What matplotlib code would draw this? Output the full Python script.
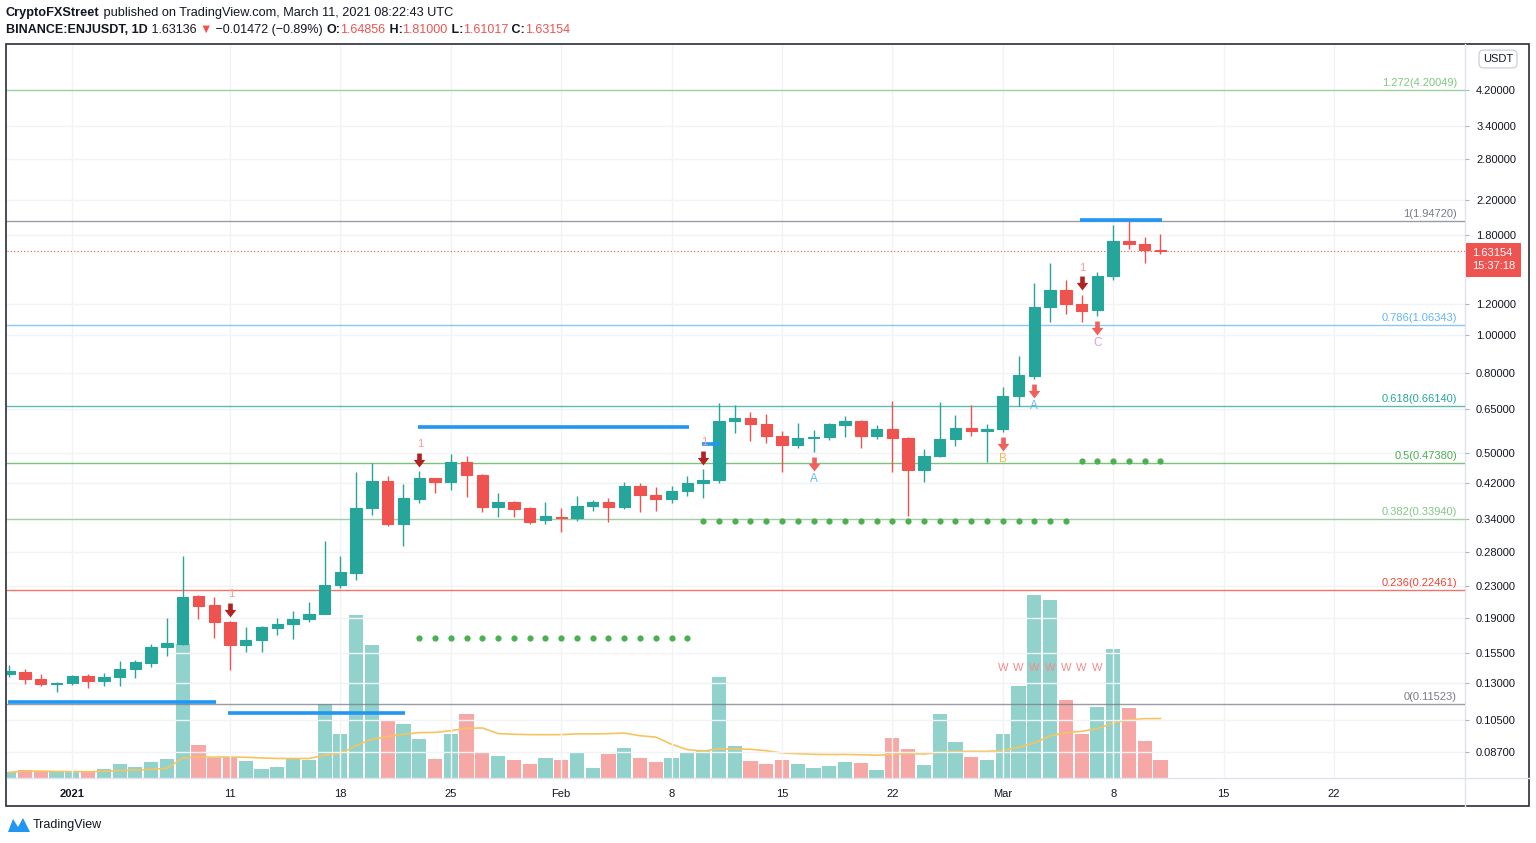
import numpy as np
import pandas as pd
import matplotlib
matplotlib.use('Agg')
import matplotlib.pyplot as plt
import matplotlib.dates as mdates
import matplotlib.transforms as mtransforms
from matplotlib.path import Path
from matplotlib.patches import Rectangle, Polygon
from matplotlib.lines import Line2D
from matplotlib.ticker import FixedLocator, NullLocator, FormatStrFormatter

plt.rcParams['font.family'] = ['Liberation Sans', 'DejaVu Sans']

# daily candles, BINANCE:ENJUSDT
dates = pd.date_range('2020-12-28', '2021-03-11', freq='D')
opens = [0.1373, 0.1390, 0.1334, 0.1295, 0.1303, 0.1357, 0.1318, 0.1350, 0.1414, 0.1465,
         0.1608, 0.1637, 0.2167, 0.2056, 0.1861, 0.1627, 0.1675, 0.1797, 0.1840, 0.1894,
         0.1951, 0.2311, 0.2479, 0.3626, 0.4246, 0.3302, 0.3822, 0.4321, 0.4221, 0.4745,
         0.4397, 0.3647, 0.3755, 0.3626, 0.3380, 0.3440, 0.3420, 0.3668, 0.3755, 0.3647,
         0.4123, 0.3912, 0.3822, 0.4005, 0.4196, 0.4271, 0.6030, 0.6137, 0.5925, 0.5524,
         0.5241, 0.5460, 0.5491, 0.5891, 0.6030, 0.5524, 0.5755, 0.5460, 0.4528, 0.4914,
         0.5428, 0.5788, 0.5688, 0.5755, 0.6979, 0.7845, 1.181, 1.305, 1.202, 1.161,
         1.416, 1.738, 1.708, 1.64856]
highs = [0.1448, 0.1414, 0.1373, 0.1311, 0.1365, 0.1373, 0.1381, 0.1482, 0.1491, 0.1637,
         0.1906, 0.2738, 0.2180, 0.2155, 0.1872, 0.1808, 0.1818, 0.1906, 0.1985, 0.2092,
         0.2989, 0.2738, 0.4475, 0.4717, 0.4372, 0.4172, 0.4501, 0.4330, 0.4972, 0.4914,
         0.4423, 0.3958, 0.3777, 0.3647, 0.3755, 0.3626, 0.3889, 0.3799, 0.3844, 0.4221,
         0.4196, 0.4099, 0.4123, 0.4372, 0.4554, 0.6699, 0.6622, 0.6356, 0.6282, 0.5688,
         0.5960, 0.5721, 0.5960, 0.6209, 0.6066, 0.5891, 0.6778, 0.5491, 0.5119, 0.6739,
         0.6246, 0.6622, 0.5925, 0.7356, 0.8818, 1.359, 1.528, 1.383, 1.267, 1.450,
         1.908, 1.947, 1.779, 1.81000]
lows = [0.1350, 0.1295, 0.1280, 0.1236, 0.1288, 0.1265, 0.1280, 0.1280, 0.1342, 0.1431,
        0.1526, 0.1630, 0.1894, 0.1695, 0.1406, 0.1562, 0.1562, 0.1725, 0.1685, 0.1861,
        0.1945, 0.2271, 0.2380, 0.3480, 0.3263, 0.2903, 0.3733, 0.3958, 0.4028, 0.3866,
        0.3542, 0.3440, 0.3440, 0.3302, 0.3302, 0.3151, 0.3360, 0.3563, 0.3341, 0.3604,
        0.3542, 0.3563, 0.3733, 0.3889, 0.3844, 0.4196, 0.5622, 0.5365, 0.5302, 0.4475,
        0.5149, 0.5030, 0.5396, 0.5491, 0.5149, 0.5428, 0.4475, 0.3460, 0.4221, 0.4885,
        0.5210, 0.5524, 0.4745, 0.5654, 0.6583, 0.7709, 1.082, 1.134, 1.082, 1.121,
        1.383, 1.658, 1.528, 1.61017]
closes = [0.1398, 0.1334, 0.1295, 0.1303, 0.1357, 0.1318, 0.1350, 0.1414, 0.1473, 0.1608,
          0.1646, 0.2155, 0.2044, 0.1861, 0.1627, 0.1675, 0.1808, 0.1840, 0.1894, 0.1951,
          0.2311, 0.2494, 0.3626, 0.4246, 0.3302, 0.3844, 0.4321, 0.4221, 0.4745, 0.4397,
          0.3647, 0.3755, 0.3604, 0.3341, 0.3460, 0.3420, 0.3668, 0.3755, 0.3647, 0.4123,
          0.3912, 0.3822, 0.4005, 0.4196, 0.4271, 0.6030, 0.6137, 0.5925, 0.5524, 0.5241,
          0.5460, 0.5491, 0.5925, 0.6030, 0.5524, 0.5755, 0.5460, 0.4528, 0.4914, 0.5428,
          0.5788, 0.5688, 0.5755, 0.6979, 0.7891, 1.181, 1.305, 1.202, 1.154, 1.416,
          1.738, 1.708, 1.6486, 1.63154]
volumes = [5.7, 8, 7, 5.7, 5.7, 5.7, 8.7, 14, 10.7, 15.7, 19, 133.7, 33, 20.3,
           21.3, 17.3, 9.3, 11, 18.7, 18, 73.7, 43.7, 163, 133, 58, 54, 39.3, 19.3,
           44, 64, 26, 22, 18, 14, 20, 18, 25, 10, 24, 30, 20, 16,
           20, 26, 28, 101, 32, 17, 14, 18, 14, 10, 12, 16, 15, 8,
           40, 29, 12.7, 64, 36.3, 21.3, 18, 44.3, 92, 183, 178, 78, 44, 71.3,
           128.7, 70, 37.3, 17.7]

# fibonacci retracement
fib_ratios = ['1.272', '1', '0.786', '0.618', '0.5', '0.382', '0.236', '0']
fib_prices = [4.20049, 1.94720, 1.06343, 0.66140, 0.47380, 0.33940, 0.22461, 0.11523]
fib_colors = ['#81c784', '#787b86', '#64b5f6', '#26a69a', '#4caf50', '#81c784', '#f44336', '#787b86']

# blue support / resistance segments
seg_prices = [0.1166, 0.1093, 0.5846, 0.5271, 1.9649]
seg_start = ['2020-12-28', '2021-01-11', '2021-01-23', '2021-02-10', '2021-03-06']
seg_end = ['2021-01-10', '2021-01-22', '2021-02-09', '2021-02-11', '2021-03-11']

# green dotted stops
dot_prices = [0.1695, 0.3360, 0.4772]
dot_start = ['2021-01-23', '2021-02-10', '2021-03-06']
dot_end = ['2021-02-09', '2021-03-05', '2021-03-11']

# signals
td_days = ['2021-01-11', '2021-01-23', '2021-02-10', '2021-03-06']
abc_days = ['2021-02-17', '2021-03-01', '2021-03-03', '2021-03-07']
abc_labels = ['A', 'B', 'A', 'C']
abc_colors = ['#64b5f6', '#ffb74d', '#64b5f6', '#d59ee8']
w_days = pd.date_range('2021-03-01', '2021-03-07', freq='D')
w_price = 0.1418

yticks = [0.087, 0.105, 0.13, 0.155, 0.19, 0.23, 0.28, 0.34, 0.42, 0.5, 0.65, 0.8,
          1.0, 1.2, 1.8, 2.2, 2.8, 3.4, 4.2]
xtick_dates = ['2021-01-01', '2021-01-11', '2021-01-18', '2021-01-25', '2021-02-01',
               '2021-02-08', '2021-02-15', '2021-02-22', '2021-03-01', '2021-03-08',
               '2021-03-15', '2021-03-22']
xtick_labels = ['2021', '11', '18', '25', 'Feb', '8', '15', '22', 'Mar', '8', '15', '22']

GREEN = '#26a69a'
RED = '#ef5350'
TXT = '#131722'
GRID = '#f2f3f5'
SEP = '#e0e3eb'

W, H = 1536, 843
fig = plt.figure(figsize=(W / 100, H / 100), dpi=100)
rect = [7 / W, 1 - 778 / H, 1458 / W, 733 / H]
axv = fig.add_axes(rect, zorder=1)
ax = fig.add_axes(rect, zorder=2)
ax.patch.set_alpha(0)

x = mdates.date2num(dates)
o = np.array(opens); h = np.array(highs); l = np.array(lows); c = np.array(closes)
up = c >= o
cols = np.where(up, GREEN, RED)
jan1 = mdates.date2num(pd.Timestamp('2021-01-01'))
xlim = (jan1 - 4.14, jan1 + 88.31)

# volume pane
vol = np.array(volumes)
axv.bar(x, vol, width=0.9, color=cols, alpha=0.5, linewidth=0)
ma = pd.Series(vol).rolling(20, min_periods=1).mean()
axv.plot(x, ma, color='#f7c35f', lw=1.2)
axv.set_xlim(xlim)
axv.set_ylim(0, vol.max() / 0.2497)
axv.axis('off')

# price pane
ax.set_yscale('log')
ax.set_xlim(xlim)
ax.set_ylim(0.07463, 5.468)
ax.vlines(x, l, h, colors=cols, lw=1, zorder=3)
ax.bar(x, np.abs(c - o), width=0.72, bottom=np.minimum(o, c), color=cols,
       edgecolor=cols, linewidth=0.8, zorder=4)

for r, p, col in zip(fib_ratios, fib_prices, fib_colors):
    ax.axhline(p, color=col, lw=1, alpha=0.75, zorder=2)
    ax.annotate(f'{r}({p:.5f})', xy=(0.9945, p), xycoords=('axes fraction', 'data'),
                xytext=(0, 2), textcoords='offset pixels', ha='right', va='bottom',
                color=col, fontsize=8)

for p, s, e in zip(seg_prices, seg_start, seg_end):
    ax.hlines(p, mdates.date2num(pd.Timestamp(s)) - 0.1, mdates.date2num(pd.Timestamp(e)) + 0.1,
              color='#2196f3', lw=2.6, zorder=5)

for p, s, e in zip(dot_prices, dot_start, dot_end):
    dd = mdates.date2num(pd.date_range(s, e, freq='D'))
    ax.plot(dd, np.full(len(dd), p), 'o', color='#4caf50', ms=4.5, mec='none', zorder=5)

arrow = Path([(-0.2, 0.6), (0.2, 0.6), (0.2, 0.05), (0.5, 0.05), (0, -0.6),
              (-0.5, 0.05), (-0.2, 0.05), (-0.2, 0.6)],
             [Path.MOVETO] + [Path.LINETO] * 6 + [Path.CLOSEPOLY])

day_idx = {d: i for i, d in enumerate(dates.strftime('%Y-%m-%d'))}
up_arrow = mtransforms.offset_copy(ax.transData, fig=fig, x=0, y=11.5, units='dots')
up_text = mtransforms.offset_copy(ax.transData, fig=fig, x=1, y=27, units='dots')
dn_arrow = mtransforms.offset_copy(ax.transData, fig=fig, x=0, y=-12, units='dots')
dn_text = mtransforms.offset_copy(ax.transData, fig=fig, x=0, y=-27, units='dots')
for d in td_days:
    i = day_idx[d]
    ax.plot(x[i], h[i], marker=arrow, ms=10, color='#b22222', mec='none', transform=up_arrow, zorder=6)
    ax.text(x[i], h[i], '1', transform=up_text, ha='center', va='center', color='#f59a9a', fontsize=8, zorder=6)
for d, lab, col in zip(abc_days, abc_labels, abc_colors):
    i = day_idx[d]
    ax.plot(x[i], l[i], marker=arrow, ms=10, color='#f0605d', mec='none', transform=dn_arrow, zorder=6)
    ax.text(x[i], l[i], lab, transform=dn_text, ha='center', va='center', color=col, fontsize=8.5, zorder=6)
for d in mdates.date2num(w_days):
    ax.text(d, w_price, 'W', ha='center', va='center', color='#f28b8b', fontsize=8, zorder=6)

# last price
ax.axhline(c[-1], color=RED, lw=0.8, ls=(0, (1, 2)), zorder=2)
ax.annotate(f'{c[-1]:.5f}\n15:37:18', xy=(1, c[-1]), xycoords=('axes fraction', 'data'),
            xytext=(7, 3), textcoords='offset pixels', ha='left', va='top', color='white',
            fontsize=8, linespacing=1.35, annotation_clip=False, zorder=10,
            bbox=dict(boxstyle='square,pad=0.5', fc=RED, ec='none'))

# axes styling
ax.yaxis.set_major_locator(FixedLocator(yticks))
ax.yaxis.set_minor_locator(NullLocator())
ax.yaxis.set_major_formatter(FormatStrFormatter('%.5f'))
ax.yaxis.tick_right()
ax.tick_params(axis='y', length=3, color='#b2b5be', pad=5, labelsize=8, labelcolor=TXT)
ax.set_xticks(mdates.date2num(pd.to_datetime(xtick_dates)), xtick_labels)
ax.tick_params(axis='x', length=0, pad=8, labelsize=8, labelcolor=TXT)
ax.get_xticklabels()[0].set_fontweight('bold')
ax.grid(True, color=GRID, lw=1)
ax.set_axisbelow(True)
for s in ax.spines.values():
    s.set_visible(False)

# separators and outer frame
fig.add_artist(Line2D([7 / W, 1529 / W], [1 - 778 / H] * 2, color=SEP, lw=1))
fig.add_artist(Line2D([1465 / W] * 2, [1 - 44 / H, 1 - 806 / H], color=SEP, lw=1))
fig.add_artist(Rectangle((6 / W, 1 - 806 / H), 1523 / W, 762 / H, fill=False,
                         ec='#2a2e39', lw=1.2, transform=fig.transFigure))

fig.text(1498 / W, 1 - 59 / H, 'USDT', ha='center', va='center', fontsize=8, color=TXT,
         bbox=dict(boxstyle='round,pad=0.35,rounding_size=0.4', fc='white', ec='#d1d4dc'))

# header
renderer = fig.canvas.get_renderer()
def text_run(x0, y0, parts, size):
    xx = x0
    for s, col, wt in parts:
        t = fig.text(xx / W, 1 - y0 / H, s, color=col, fontweight=wt, fontsize=size,
                     ha='left', va='center')
        xx += t.get_window_extent(renderer).width

text_run(6, 13, [('CryptoFXStreet', TXT, 'bold'),
                 (' published on TradingView.com, March 11, 2021 08:22:43 UTC', TXT, 'normal')], 9.2)
text_run(6, 30, [('BINANCE:ENJUSDT, 1D', TXT, 'bold'), (' 1.63136 ', TXT, 'normal'),
                 ('\u25bc', RED, 'normal'), (' \u22120.01472 (\u22120.89%) ', TXT, 'normal'),
                 ('O:', TXT, 'bold'), ('1.64856', RED, 'normal'), (' H:', TXT, 'bold'),
                 ('1.81000', RED, 'normal'), (' L:', TXT, 'bold'), ('1.61017', RED, 'normal'),
                 (' C:', TXT, 'bold'), ('1.63154', RED, 'normal')], 9.0)

# footer logo
fig.add_artist(Polygon([(8 / W, 1 - 832 / H), (13 / W, 1 - 819 / H), (18 / W, 1 - 827 / H),
                        (23 / W, 1 - 818 / H), (30 / W, 1 - 832 / H)],
                       closed=True, fc='#2196f3', ec='none', transform=fig.transFigure))
fig.text(33 / W, 1 - 825 / H, 'TradingView', ha='left', va='center', fontsize=9, color=TXT)

fig.savefig('out.png', dpi=100)
